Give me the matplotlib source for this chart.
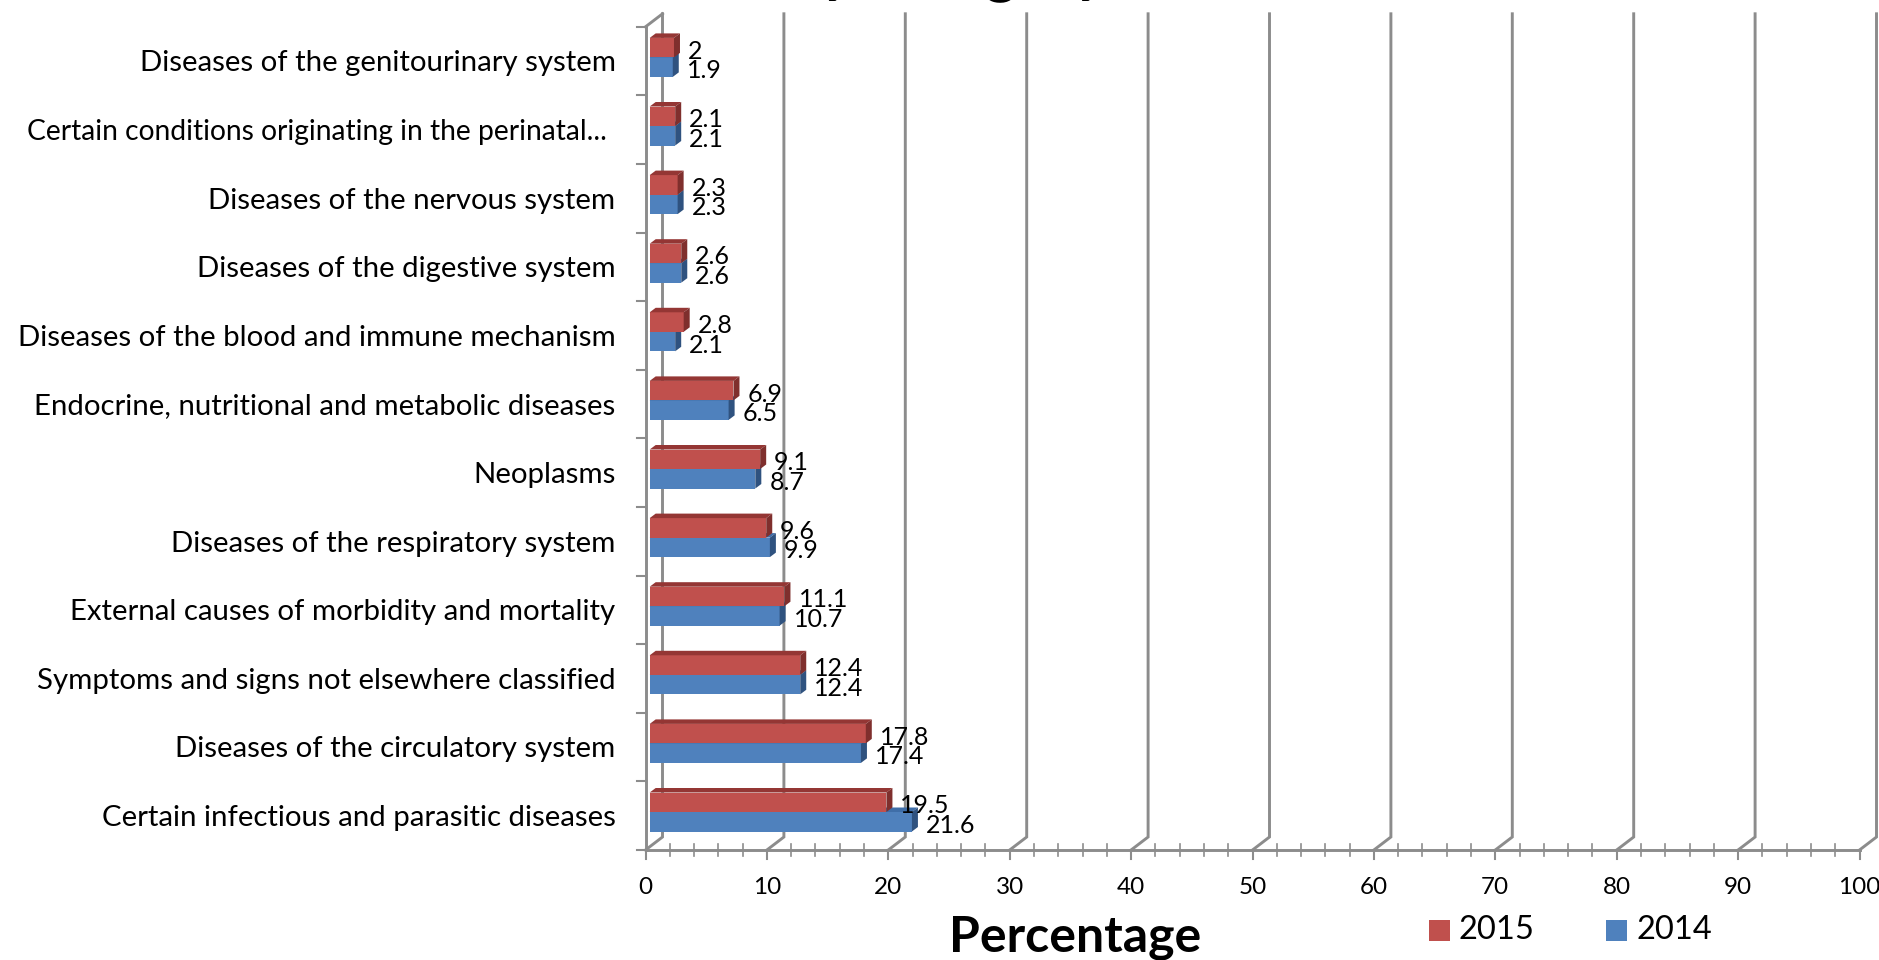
import matplotlib
matplotlib.use('Agg')
import matplotlib.pyplot as plt
from matplotlib.patches import Polygon

plt.rcParams['font.family'] = ['Lato', 'DejaVu Sans']

categories = ['Certain infectious and parasitic diseases',
              'Diseases of the circulatory system',
              'Symptoms and signs not elsewhere classified',
              'External causes of morbidity and mortality',
              'Diseases of the respiratory system',
              'Neoplasms',
              'Endocrine, nutritional and metabolic diseases',
              'Diseases of the blood and immune mechanism',
              'Diseases of the digestive system',
              'Diseases of the nervous system',
              'Certain conditions originating in the perinatal...',
              'Diseases of the genitourinary system']
values_2015 = [19.5, 17.8, 12.4, 11.1, 9.6, 9.1, 6.9, 2.8, 2.6, 2.3, 2.1, 2]
values_2014 = [21.6, 17.4, 12.4, 10.7, 9.9, 8.7, 6.5, 2.1, 2.6, 2.3, 2.1, 1.9]
x_ticks = [0, 10, 20, 30, 40, 50, 60, 70, 80, 90, 100]

W, H = 1879, 960
PX_X = 12.14   # pixels per percent
PX_Y = 68.6    # pixels per category
X0, Y0 = 645.5, 850

# 3D look, in data units
wall_dx, wall_dy = 17 / PX_X, 13 / PX_Y
bar_dx, bar_dy = 6 / PX_X, 4.5 / PX_Y
bar_h = 19.5 / PX_Y
bar_start = 4.2 / PX_X
mid_shift = 3.7 / PX_Y

grey = '#8c8c8c'
red, red_top, red_side = '#c0504d', '#943634', '#7f2f2d'
blue, blue_top, blue_side = '#4f81bd', '#3f6ea8', '#2f527f'

fig = plt.figure(figsize=(W / 100, H / 100), dpi=100)
ax = fig.add_axes([0, 0, 1, 1])
ax.set_xlim(-X0 / PX_X, (W - X0) / PX_X)
ax.set_ylim(-(H - Y0) / PX_Y, Y0 / PX_Y)
ax.axis('off')

n = len(categories)

# back wall gridlines with the slanted floor piece
for t in x_ticks:
    ax.plot([t, t + wall_dx, t + wall_dx], [0, wall_dy, n + wall_dy],
            color=grey, lw=2.1, solid_joinstyle='miter', zorder=1)

# front axes
ax.plot([0, 0], [0, n], color=grey, lw=2.1, zorder=1)
ax.plot([0, wall_dx], [n, n + wall_dy], color=grey, lw=2.1, zorder=1)
ax.plot([0, 100], [0, 0], color=grey, lw=2.1, zorder=1)
for i in range(n + 1):
    ax.plot([-9 / PX_X, 0], [i, i], color=grey, lw=1.5, zorder=1)
for t in x_ticks:
    ax.plot([t, t], [0, -9 / PX_Y], color=grey, lw=1.5, zorder=1)
for t in range(0, 100, 2):
    if t % 10:
        ax.plot([t, t], [6 / PX_Y, -6 / PX_Y], color=grey, lw=1.2, zorder=1)


def draw_bar(value, y_low, face, top, side):
    x1 = bar_start + value
    y_high = y_low + bar_h
    ax.barh(y_low, value, height=bar_h, left=bar_start, align='edge',
            color=face, zorder=3)
    ax.add_patch(Polygon([(bar_start, y_high), (bar_start + bar_dx, y_high + bar_dy),
                          (x1 + bar_dx, y_high + bar_dy), (x1, y_high)],
                         color=top, lw=0, zorder=3))
    ax.add_patch(Polygon([(x1, y_low), (x1 + bar_dx, y_low + bar_dy),
                          (x1 + bar_dx, y_high + bar_dy), (x1, y_high)],
                         color=side, lw=0, zorder=3))


for i, (v15, v14) in enumerate(zip(values_2015, values_2014)):
    centre = i + 0.5 + mid_shift
    draw_bar(v14, centre - bar_h, blue, blue_top, blue_side)
    draw_bar(v15, centre, red, red_top, red_side)
    ax.text(bar_start + v15 + 14 / PX_X, centre + bar_h / 2 - 3.5 / PX_Y, str(v15),
            fontsize=18, va='center', ha='left', color='black', zorder=5)
    ax.text(bar_start + v14 + 14 / PX_X, centre - bar_h / 2 - 3.5 / PX_Y, str(v14),
            fontsize=18, va='center', ha='left', color='black', zorder=5)
    # the truncated label sits a bit further left and runs narrower
    cut = categories[i].endswith('...')
    ax.text((-39 if cut else -30) / PX_X, centre - 6 / PX_Y, categories[i],
            fontsize=20.3 if cut else 21.2, va='center', ha='right', color='black')

for t in x_ticks:
    ax.text(t, -37 / PX_Y, str(t), fontsize=17.5, va='center', ha='center', color='black')

ax.text(29.3 + 6.1, -88 / PX_Y, 'Percentage', fontsize=36, fontweight='bold',
        va='center', ha='center', color='black')

# title is cut off by the top of the picture, only descenders show
ax.text(24.8, Y0 / PX_Y + 9.5 / PX_Y, 'by category', fontsize=44, fontweight='bold',
        va='baseline', ha='center', color='black', clip_on=True)

# legend drawn by hand, it sits on the bottom edge
for x_sq, label, colour in [(65.4, '2015', red), (80, '2014', blue)]:
    ax.bar(x_sq, 21 / PX_Y, width=21 / PX_X, bottom=-(930 - Y0 + 10.5) / PX_Y,
           color=colour, zorder=3)
    ax.text(x_sq + 19.5 / PX_X, -(930 - Y0) / PX_Y, label, fontsize=23.5,
            va='center', ha='left', color='black')

fig.savefig('out.png', dpi=100)
